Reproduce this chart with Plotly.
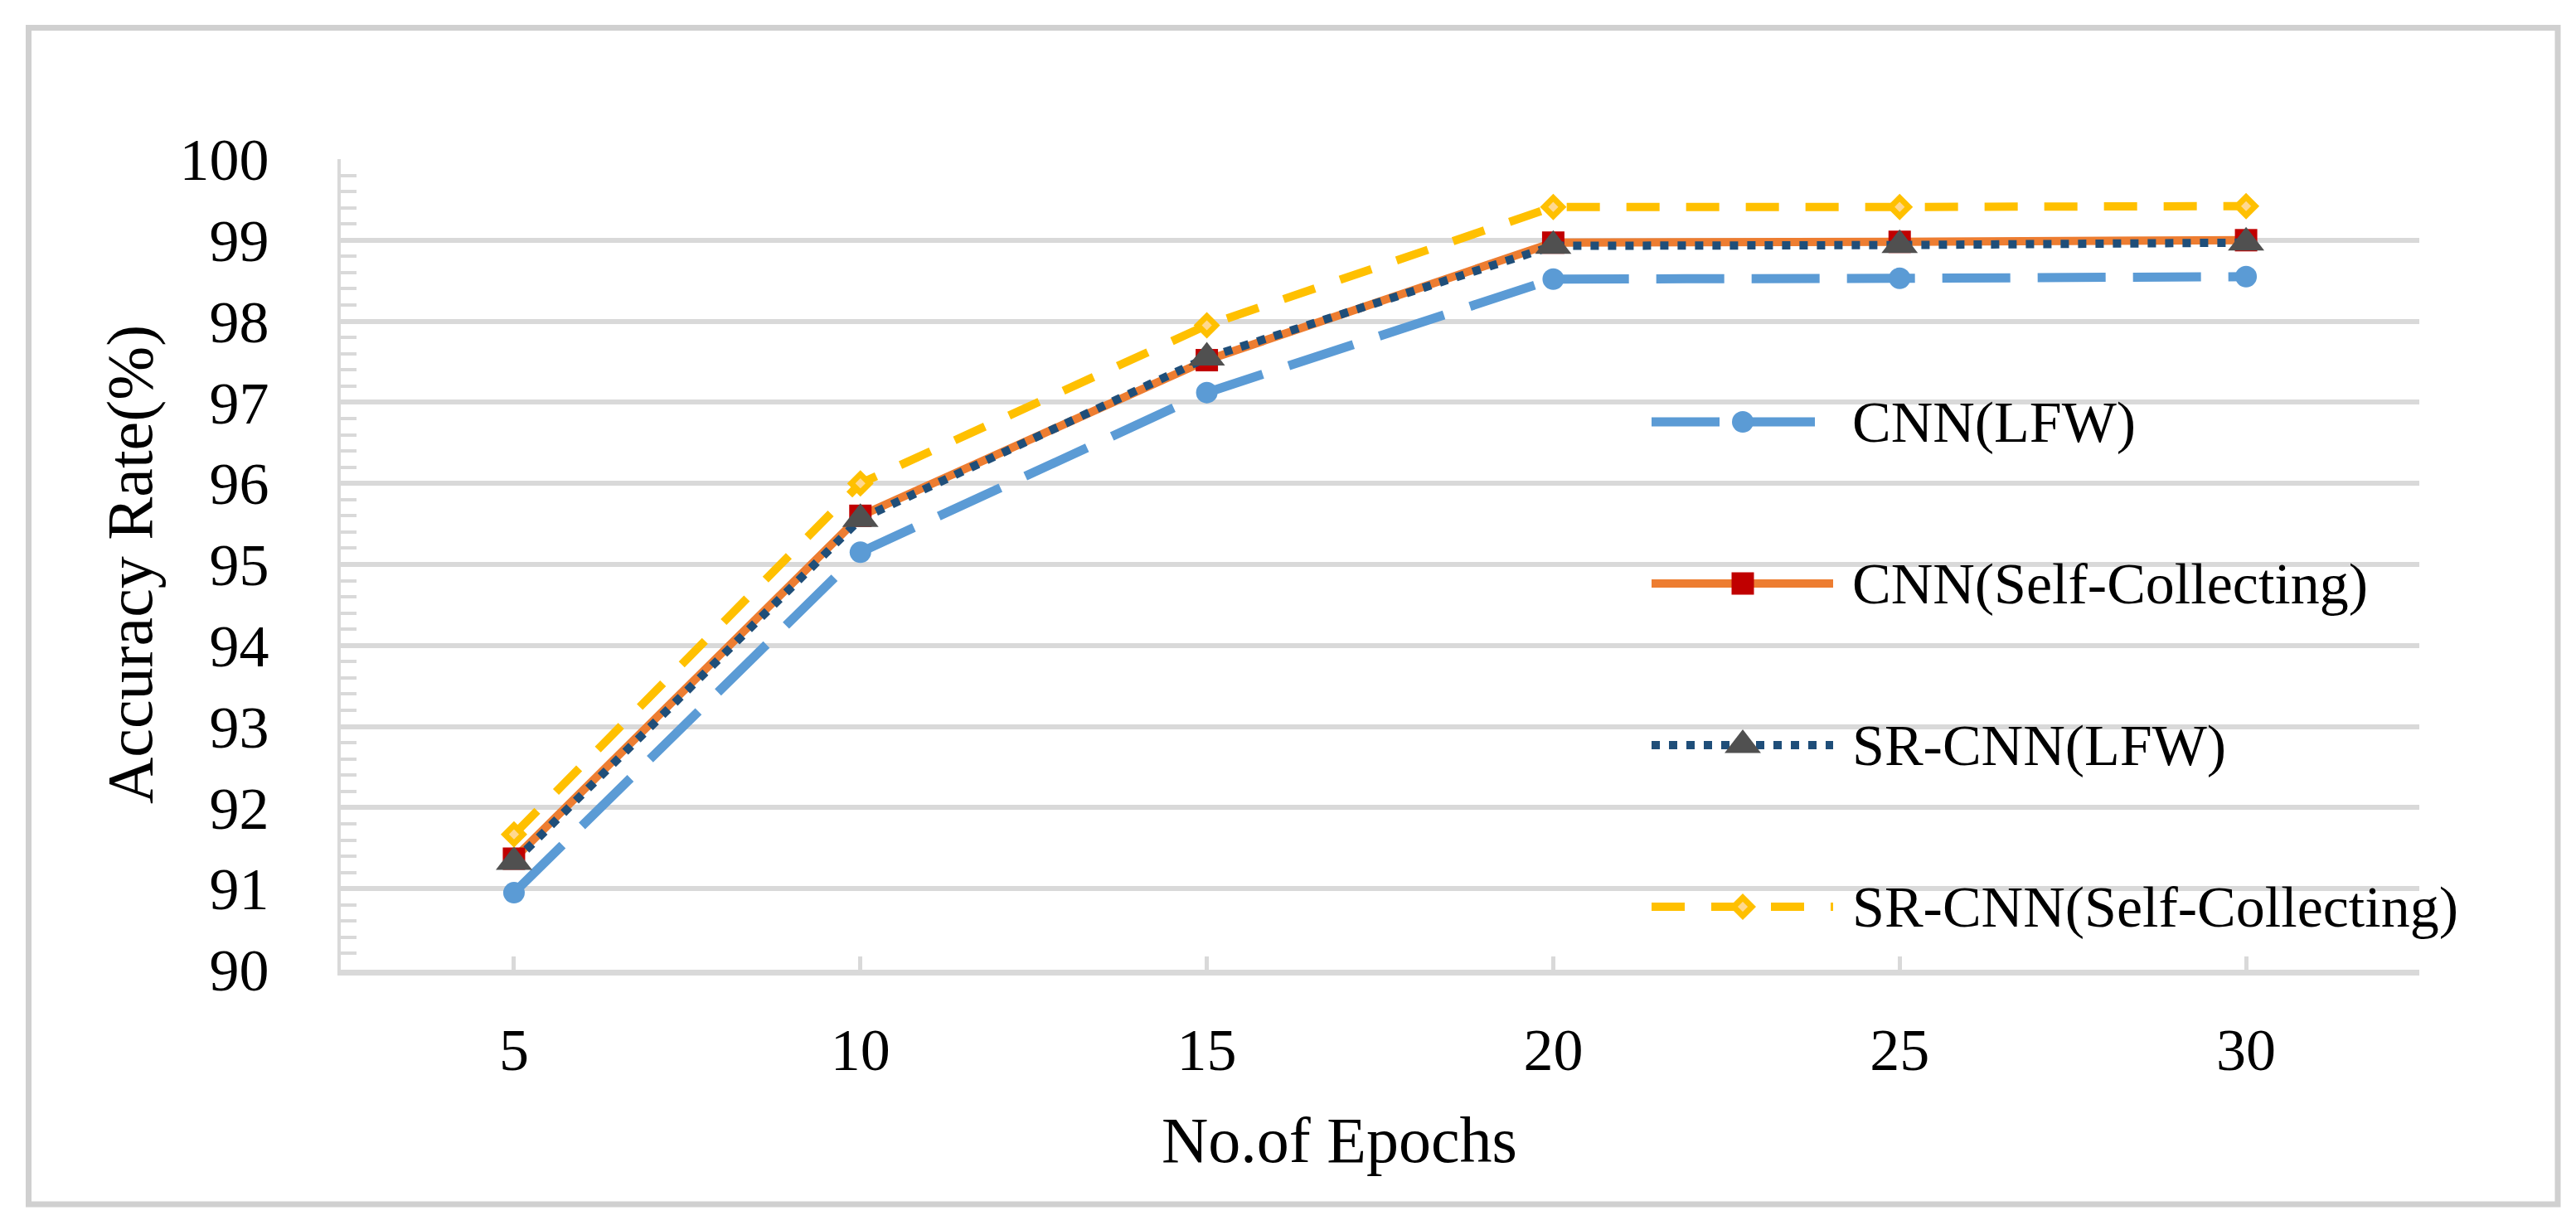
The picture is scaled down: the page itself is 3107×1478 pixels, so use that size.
import plotly.graph_objects as go

# ---------------- data ----------------
epochs = [5, 10, 15, 20, 25, 30]
cnn_lfw = [90.95, 95.15, 97.12, 98.52, 98.53, 98.55]
cnn_self = [91.37, 95.60, 97.52, 98.97, 98.98, 99.00]
srcnn_lfw = [91.33, 95.56, 97.55, 98.93, 98.94, 98.97]
srcnn_self = [91.67, 96.00, 97.95, 99.41, 99.41, 99.42]
series_names = ["CNN(LFW)", "CNN(Self-Collecting)", "SR-CNN(LFW)", "SR-CNN(Self-Collecting)"]
y_ticks = [90, 91, 92, 93, 94, 95, 96, 97, 98, 99, 100]
x_title = "No.of Epochs"
y_title = "Accuracy Rate(%)"

# ---------------- layout constants ----------------
W, H = 3107, 1478
PLOT_L, PLOT_R, PLOT_T, PLOT_B = 403, 2910, 184, 1162
FONT = "Liberation Serif"
GRID = "#d9d9d9"

styles = [
    dict(line=dict(color="#5b9bd5", width=11, dash="82px,33px"),
         marker=dict(symbol="circle", size=26, color="#5b9bd5", line=dict(width=0))),
    dict(line=dict(color="#ed7d31", width=10, dash="solid"),
         marker=dict(symbol="square", size=27, color="#c00000", line=dict(width=0))),
    dict(line=dict(color="#1f4e79", width=10, dash="10px,11px"),
         marker=dict(symbol="triangle-up", size=38, color="#505050", line=dict(width=0))),
    dict(line=dict(color="#ffc000", width=10, dash="40px,32px"),
         marker=dict(symbol="diamond", size=17, color="#ffd88f", line=dict(width=7, color="#ffc000"))),
]
values = [cnn_lfw, cnn_self, srcnn_lfw, srcnn_self]

fig = go.Figure()
for name, vals, st in zip(series_names, values, styles):
    fig.add_trace(go.Scatter(x=epochs, y=vals, name=name, mode="lines+markers",
                             line=st["line"], marker=st["marker"], showlegend=False,
                             xaxis="x", yaxis="y"))

# ---------------- custom legend (pixel overlay axes) ----------------
LEG_X0, LEG_X1, LEG_XM, LEG_TEXT_X = 1984, 2203, 2094, 2224
LEG_ROWS = [501, 696, 891, 1086]
for name, st, ry in zip(series_names, styles, LEG_ROWS):
    fig.add_trace(go.Scatter(x=[LEG_X0, LEG_X1], y=[ry, ry], mode="lines", line=st["line"],
                             showlegend=False, hoverinfo="skip", xaxis="x2", yaxis="y2"))
    fig.add_trace(go.Scatter(x=[LEG_XM], y=[ry], mode="markers", marker=st["marker"],
                             showlegend=False, hoverinfo="skip", xaxis="x2", yaxis="y2"))
    fig.add_annotation(x=LEG_TEXT_X, y=ry, xref="x2", yref="y2", text=name, showarrow=False,
                       xanchor="left", yanchor="middle", font=dict(family=FONT, size=70, color="black"))

# axis titles
fig.add_annotation(x=1607, y=1367, xref="x2", yref="y2", text=x_title, showarrow=False,
                   xanchor="center", yanchor="middle", font=dict(family=FONT, size=78, color="black"))
fig.add_annotation(x=148, y=673, xref="x2", yref="y2", text=y_title, showarrow=False, textangle=-90,
                   xanchor="center", yanchor="middle", font=dict(family=FONT, size=78, color="black"))

# outer border
fig.add_shape(type="rect", x0=26.5, y0=25.5, x1=3077, y1=1445, xref="x2", yref="y2",
              line=dict(color="#d0d0d0", width=7), fillcolor="rgba(0,0,0,0)", layer="below")

x_tickvals = [2.5] + epochs + [32.5]
x_ticktext = [""] + [str(e) for e in epochs] + [""]

fig.update_layout(
    template="none",
    width=W, height=H, autosize=False, showlegend=False,
    margin=dict(l=0, r=0, t=0, b=0, pad=0, autoexpand=False),
    paper_bgcolor="white", plot_bgcolor="rgba(0,0,0,0)",
    font=dict(family=FONT, color="black"),
    xaxis=dict(domain=[PLOT_L / W, PLOT_R / W], range=[2.5, 32.5], tickvals=x_tickvals,
               ticktext=x_ticktext, ticks="inside", ticklen=16, tickwidth=5, tickcolor=GRID,
               showline=True, linecolor=GRID, linewidth=7, showgrid=False, zeroline=False,
               tickfont=dict(family=FONT, size=72, color="black"), ticklabelstandoff=28,
               anchor="y", automargin=False),
    yaxis=dict(domain=[1 - PLOT_B / H, 1 - PLOT_T / H], range=[90, 100], tickvals=y_ticks,
               ticks="inside", ticklen=26, tickwidth=6, tickcolor=GRID,
               showline=True, linecolor=GRID, linewidth=4, showgrid=True, gridcolor=GRID,
               gridwidth=6, zeroline=False,
               minor=dict(dtick=0.2, ticks="inside", ticklen=19, tickwidth=4, tickcolor=GRID,
                          showgrid=False),
               tickfont=dict(family=FONT, size=72, color="black"), ticklabelstandoff=68,
               anchor="x", automargin=False),
    xaxis2=dict(domain=[0, 1], range=[0, W], visible=False, anchor="y2", automargin=False),
    yaxis2=dict(domain=[0, 1], range=[H, 0], visible=False, anchor="x2", automargin=False),
)

fig.write_html("out.html", config={"responsive": False, "displayModeBar": False})
